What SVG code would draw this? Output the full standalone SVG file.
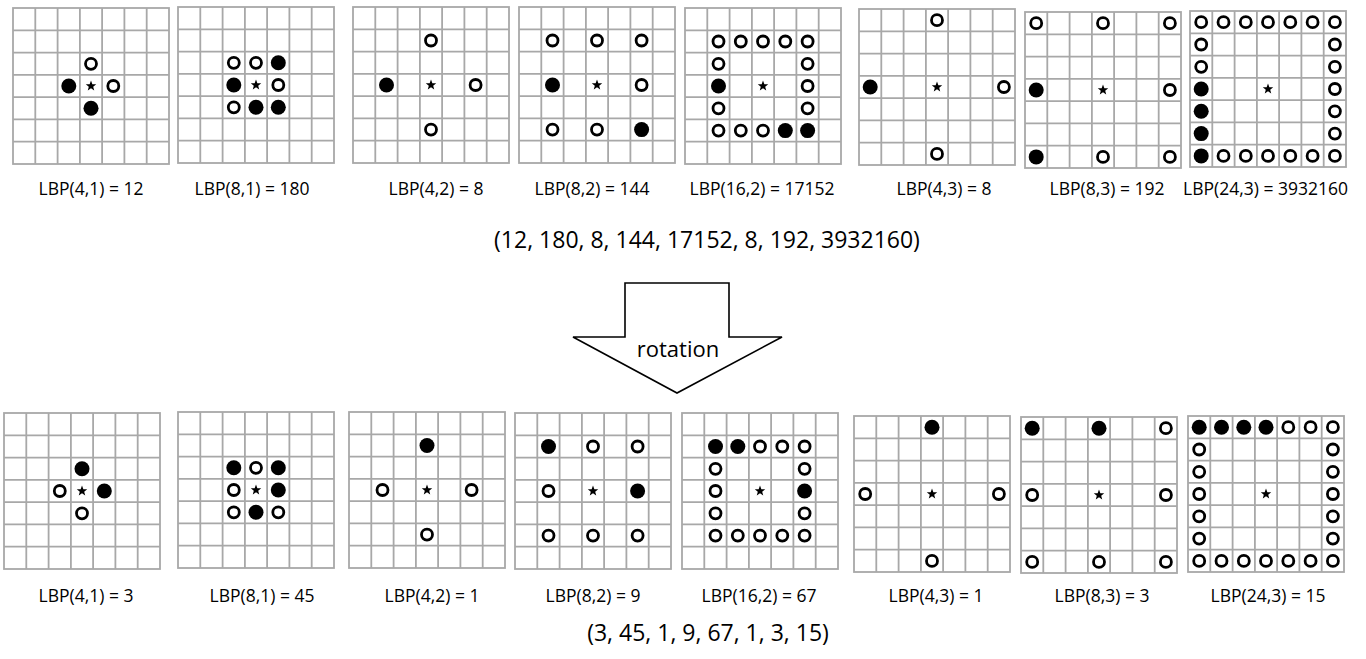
<svg xmlns="http://www.w3.org/2000/svg" xmlns:xlink="http://www.w3.org/1999/xlink" width="1366" height="659" viewBox="0 0 1366 659">
<style>
.lbl{font-family:"Open Sans","Liberation Sans",sans-serif;font-size:17.5px;fill:#000;text-anchor:middle}
.big{font-family:"Open Sans","Liberation Sans",sans-serif;font-size:23px;fill:#000;text-anchor:middle}
.o{fill:#fff;stroke:#000;stroke-width:2.8}
.f{fill:#000}
.gl{stroke:#a8a8a8;stroke-width:1.8;fill:none}
</style>
<defs>
<g id="grid">
<rect class="gl" x="0" y="0" width="156" height="156" fill="#fff"/>
<path class="gl" d="M22.3,0V156M44.6,0V156M66.9,0V156M89.1,0V156M111.4,0V156M133.7,0V156M0,22.3H156M0,44.6H156M0,66.9H156M0,89.1H156M0,111.4H156M0,133.7H156"/>
</g>
<path id="star" d="M0,-5.5 L1.35,-1.85 L5.23,-1.7 L2.2,0.72 L3.23,4.45 L0,2.3 L-3.23,4.45 L-2.2,0.72 L-5.23,-1.7 L-1.35,-1.85 Z" fill="#000"/>
</defs>
<rect width="1366" height="659" fill="#fff"/>

<!-- TOP ROW -->
<g id="t1" transform="translate(13,8)">
<use xlink:href="#grid"/><use xlink:href="#star" x="78" y="78"/>
<circle class="o" cx="78" cy="55.8" r="5.5"/><circle class="f" cx="55.8" cy="78" r="7.5"/><circle class="o" cx="100.3" cy="78" r="5.5"/><circle class="f" cx="78" cy="100.3" r="7.5"/>
</g>
<g id="t2" transform="translate(178,7)">
<use xlink:href="#grid"/><use xlink:href="#star" x="78" y="78"/>
<circle class="o" cx="55.8" cy="55.8" r="5.5"/><circle class="o" cx="78" cy="55.8" r="5.5"/><circle class="f" cx="100.3" cy="55.8" r="7.5"/>
<circle class="f" cx="55.8" cy="78" r="7.5"/><circle class="o" cx="100.3" cy="78" r="5.5"/>
<circle class="o" cx="55.8" cy="100.3" r="5.5"/><circle class="f" cx="78" cy="100.3" r="7.5"/><circle class="f" cx="100.3" cy="100.3" r="7.5"/>
</g>
<g id="t3" transform="translate(353,7)">
<use xlink:href="#grid"/><use xlink:href="#star" x="78" y="78"/>
<circle class="o" cx="78" cy="33.5" r="5.5"/><circle class="f" cx="33.5" cy="78" r="7.5"/><circle class="o" cx="122.6" cy="78" r="5.5"/><circle class="o" cx="78" cy="122.6" r="5.5"/>
</g>
<g id="t4" transform="translate(519,7)">
<use xlink:href="#grid"/><use xlink:href="#star" x="78" y="78"/>
<circle class="o" cx="33.5" cy="33.5" r="5.5"/><circle class="o" cx="78" cy="33.5" r="5.5"/><circle class="o" cx="122.6" cy="33.5" r="5.5"/>
<circle class="f" cx="33.5" cy="78" r="7.5"/><circle class="o" cx="122.6" cy="78" r="5.5"/>
<circle class="o" cx="33.5" cy="122.6" r="5.5"/><circle class="o" cx="78" cy="122.6" r="5.5"/><circle class="f" cx="122.6" cy="122.6" r="7.5"/>
</g>
<g id="t5" transform="translate(685,8)">
<use xlink:href="#grid"/><use xlink:href="#star" x="78" y="78"/>
<circle class="o" cx="33.5" cy="33.5" r="5.5"/><circle class="o" cx="55.8" cy="33.5" r="5.5"/><circle class="o" cx="78" cy="33.5" r="5.5"/><circle class="o" cx="100.3" cy="33.5" r="5.5"/><circle class="o" cx="122.6" cy="33.5" r="5.5"/>
<circle class="o" cx="33.5" cy="55.8" r="5.5"/><circle class="o" cx="122.6" cy="55.8" r="5.5"/>
<circle class="f" cx="33.5" cy="78" r="7.5"/><circle class="o" cx="122.6" cy="78" r="5.5"/>
<circle class="o" cx="33.5" cy="100.3" r="5.5"/><circle class="o" cx="122.6" cy="100.3" r="5.5"/>
<circle class="o" cx="33.5" cy="122.6" r="5.5"/><circle class="o" cx="55.8" cy="122.6" r="5.5"/><circle class="o" cx="78" cy="122.6" r="5.5"/><circle class="f" cx="100.3" cy="122.6" r="7.5"/><circle class="f" cx="122.6" cy="122.6" r="7.5"/>
</g>
<g id="t6" transform="translate(859,9)">
<use xlink:href="#grid"/><use xlink:href="#star" x="78" y="78"/>
<circle class="o" cx="78" cy="11.2" r="5.5"/><circle class="f" cx="11.2" cy="78" r="7.5"/><circle class="o" cx="144.9" cy="78" r="5.5"/><circle class="o" cx="78" cy="144.9" r="5.5"/>
</g>
<g id="t7" transform="translate(1025,12)">
<use xlink:href="#grid"/><use xlink:href="#star" x="78" y="78"/>
<circle class="o" cx="11.2" cy="11.2" r="5.5"/><circle class="o" cx="78" cy="11.2" r="5.5"/><circle class="o" cx="144.9" cy="11.2" r="5.5"/>
<circle class="f" cx="11.2" cy="78" r="7.5"/><circle class="o" cx="144.9" cy="78" r="5.5"/>
<circle class="f" cx="11.2" cy="144.9" r="7.5"/><circle class="o" cx="78" cy="144.9" r="5.5"/><circle class="o" cx="144.9" cy="144.9" r="5.5"/>
</g>
<g id="t8" transform="translate(1190,11)">
<use xlink:href="#grid"/><use xlink:href="#star" x="78" y="78"/>
<circle class="o" cx="11.2" cy="11.2" r="5.5"/><circle class="o" cx="33.5" cy="11.2" r="5.5"/><circle class="o" cx="55.8" cy="11.2" r="5.5"/><circle class="o" cx="78" cy="11.2" r="5.5"/><circle class="o" cx="100.3" cy="11.2" r="5.5"/><circle class="o" cx="122.6" cy="11.2" r="5.5"/><circle class="o" cx="144.9" cy="11.2" r="5.5"/>
<circle class="o" cx="11.2" cy="33.5" r="5.5"/><circle class="o" cx="144.9" cy="33.5" r="5.5"/>
<circle class="o" cx="11.2" cy="55.8" r="5.5"/><circle class="o" cx="144.9" cy="55.8" r="5.5"/>
<circle class="f" cx="11.2" cy="78" r="7.5"/><circle class="o" cx="144.9" cy="78" r="5.5"/>
<circle class="f" cx="11.2" cy="100.3" r="7.5"/><circle class="o" cx="144.9" cy="100.3" r="5.5"/>
<circle class="f" cx="11.2" cy="122.6" r="7.5"/><circle class="o" cx="144.9" cy="122.6" r="5.5"/>
<circle class="f" cx="11.2" cy="144.9" r="7.5"/><circle class="o" cx="33.5" cy="144.9" r="5.5"/><circle class="o" cx="55.8" cy="144.9" r="5.5"/><circle class="o" cx="78" cy="144.9" r="5.5"/><circle class="o" cx="100.3" cy="144.9" r="5.5"/><circle class="o" cx="122.6" cy="144.9" r="5.5"/><circle class="o" cx="144.9" cy="144.9" r="5.5"/>
</g>

<g id="top-labels">
<text class="lbl" x="91" y="195">LBP(4,1) = 12</text>
<text class="lbl" x="252" y="195">LBP(8,1) = 180</text>
<text class="lbl" x="436" y="195">LBP(4,2) = 8</text>
<text class="lbl" x="592" y="195">LBP(8,2) = 144</text>
<text class="lbl" x="762" y="195">LBP(16,2) = 17152</text>
<text class="lbl" x="944" y="195">LBP(4,3) = 8</text>
<text class="lbl" x="1107" y="195">LBP(8,3) = 192</text>
<text class="lbl" x="1183" y="195" style="text-anchor:start">LBP(24,3) = 3932160</text>
</g>
<text id="top-vector" class="big" x="707" y="248">(12, 180, 8, 144, 17152, 8, 192, 3932160)</text>

<g id="rotation-arrow">
<polygon points="625,283 729,283 729,337 782,337 677,393 573,337 625,337" fill="#fff" stroke="#000" stroke-width="1.6" stroke-linejoin="miter"/>
<text x="678" y="357" style="font-family:'Open Sans','Liberation Sans',sans-serif;font-size:22px;text-anchor:middle">rotation</text>
</g>

<!-- BOTTOM ROW -->
<g id="b1" transform="translate(4,413)">
<use xlink:href="#grid"/><use xlink:href="#star" x="78" y="78"/>
<circle class="f" cx="78" cy="55.8" r="7.5"/><circle class="o" cx="55.8" cy="78" r="5.5"/><circle class="f" cx="100.3" cy="78" r="7.5"/><circle class="o" cx="78" cy="100.3" r="5.5"/>
</g>
<g id="b2" transform="translate(178,412)">
<use xlink:href="#grid"/><use xlink:href="#star" x="78" y="78"/>
<circle class="f" cx="55.8" cy="55.8" r="7.5"/><circle class="o" cx="78" cy="55.8" r="5.5"/><circle class="f" cx="100.3" cy="55.8" r="7.5"/>
<circle class="o" cx="55.8" cy="78" r="5.5"/><circle class="f" cx="100.3" cy="78" r="7.5"/>
<circle class="o" cx="55.8" cy="100.3" r="5.5"/><circle class="f" cx="78" cy="100.3" r="7.5"/><circle class="o" cx="100.3" cy="100.3" r="5.5"/>
</g>
<g id="b3" transform="translate(349,412)">
<use xlink:href="#grid"/><use xlink:href="#star" x="78" y="78"/>
<circle class="f" cx="78" cy="33.5" r="7.5"/><circle class="o" cx="33.5" cy="78" r="5.5"/><circle class="o" cx="122.6" cy="78" r="5.5"/><circle class="o" cx="78" cy="122.6" r="5.5"/>
</g>
<g id="b4" transform="translate(515,413)">
<use xlink:href="#grid"/><use xlink:href="#star" x="78" y="78"/>
<circle class="f" cx="33.5" cy="33.5" r="7.5"/><circle class="o" cx="78" cy="33.5" r="5.5"/><circle class="o" cx="122.6" cy="33.5" r="5.5"/>
<circle class="o" cx="33.5" cy="78" r="5.5"/><circle class="f" cx="122.6" cy="78" r="7.5"/>
<circle class="o" cx="33.5" cy="122.6" r="5.5"/><circle class="o" cx="78" cy="122.6" r="5.5"/><circle class="o" cx="122.6" cy="122.6" r="5.5"/>
</g>
<g id="b5" transform="translate(682,413)">
<use xlink:href="#grid"/><use xlink:href="#star" x="78" y="78"/>
<circle class="f" cx="33.5" cy="33.5" r="7.5"/><circle class="f" cx="55.8" cy="33.5" r="7.5"/><circle class="o" cx="78" cy="33.5" r="5.5"/><circle class="o" cx="100.3" cy="33.5" r="5.5"/><circle class="o" cx="122.6" cy="33.5" r="5.5"/>
<circle class="o" cx="33.5" cy="55.8" r="5.5"/><circle class="o" cx="122.6" cy="55.8" r="5.5"/>
<circle class="o" cx="33.5" cy="78" r="5.5"/><circle class="f" cx="122.6" cy="78" r="7.5"/>
<circle class="o" cx="33.5" cy="100.3" r="5.5"/><circle class="o" cx="122.6" cy="100.3" r="5.5"/>
<circle class="o" cx="33.5" cy="122.6" r="5.5"/><circle class="o" cx="55.8" cy="122.6" r="5.5"/><circle class="o" cx="78" cy="122.6" r="5.5"/><circle class="o" cx="100.3" cy="122.6" r="5.5"/><circle class="o" cx="122.6" cy="122.6" r="5.5"/>
</g>
<g id="b6" transform="translate(854,416)">
<use xlink:href="#grid"/><use xlink:href="#star" x="78" y="78"/>
<circle class="f" cx="78" cy="11.2" r="7.5"/><circle class="o" cx="11.2" cy="78" r="5.5"/><circle class="o" cx="144.9" cy="78" r="5.5"/><circle class="o" cx="78" cy="144.9" r="5.5"/>
</g>
<g id="b7" transform="translate(1021,417)">
<use xlink:href="#grid"/><use xlink:href="#star" x="78" y="78"/>
<circle class="f" cx="11.2" cy="11.2" r="7.5"/><circle class="f" cx="78" cy="11.2" r="7.5"/><circle class="o" cx="144.9" cy="11.2" r="5.5"/>
<circle class="o" cx="11.2" cy="78" r="5.5"/><circle class="o" cx="144.9" cy="78" r="5.5"/>
<circle class="o" cx="11.2" cy="144.9" r="5.5"/><circle class="o" cx="78" cy="144.9" r="5.5"/><circle class="o" cx="144.9" cy="144.9" r="5.5"/>
</g>
<g id="b8" transform="translate(1188,416)">
<use xlink:href="#grid"/><use xlink:href="#star" x="78" y="78"/>
<circle class="f" cx="11.2" cy="11.2" r="7.5"/><circle class="f" cx="33.5" cy="11.2" r="7.5"/><circle class="f" cx="55.8" cy="11.2" r="7.5"/><circle class="f" cx="78" cy="11.2" r="7.5"/><circle class="o" cx="100.3" cy="11.2" r="5.5"/><circle class="o" cx="122.6" cy="11.2" r="5.5"/><circle class="o" cx="144.9" cy="11.2" r="5.5"/>
<circle class="o" cx="11.2" cy="33.5" r="5.5"/><circle class="o" cx="144.9" cy="33.5" r="5.5"/>
<circle class="o" cx="11.2" cy="55.8" r="5.5"/><circle class="o" cx="144.9" cy="55.8" r="5.5"/>
<circle class="o" cx="11.2" cy="78" r="5.5"/><circle class="o" cx="144.9" cy="78" r="5.5"/>
<circle class="o" cx="11.2" cy="100.3" r="5.5"/><circle class="o" cx="144.9" cy="100.3" r="5.5"/>
<circle class="o" cx="11.2" cy="122.6" r="5.5"/><circle class="o" cx="144.9" cy="122.6" r="5.5"/>
<circle class="o" cx="11.2" cy="144.9" r="5.5"/><circle class="o" cx="33.5" cy="144.9" r="5.5"/><circle class="o" cx="55.8" cy="144.9" r="5.5"/><circle class="o" cx="78" cy="144.9" r="5.5"/><circle class="o" cx="100.3" cy="144.9" r="5.5"/><circle class="o" cx="122.6" cy="144.9" r="5.5"/><circle class="o" cx="144.9" cy="144.9" r="5.5"/>
</g>

<g id="bottom-labels">
<text class="lbl" x="86" y="602">LBP(4,1) = 3</text>
<text class="lbl" x="262" y="602">LBP(8,1) = 45</text>
<text class="lbl" x="432" y="602">LBP(4,2) = 1</text>
<text class="lbl" x="593" y="602">LBP(8,2) = 9</text>
<text class="lbl" x="759" y="602">LBP(16,2) = 67</text>
<text class="lbl" x="936" y="602">LBP(4,3) = 1</text>
<text class="lbl" x="1102" y="602">LBP(8,3) = 3</text>
<text class="lbl" x="1268" y="602">LBP(24,3) = 15</text>
</g>
<text id="bottom-vector" class="big" x="708" y="641">(3, 45, 1, 9, 67, 1, 3, 15)</text>
</svg>
